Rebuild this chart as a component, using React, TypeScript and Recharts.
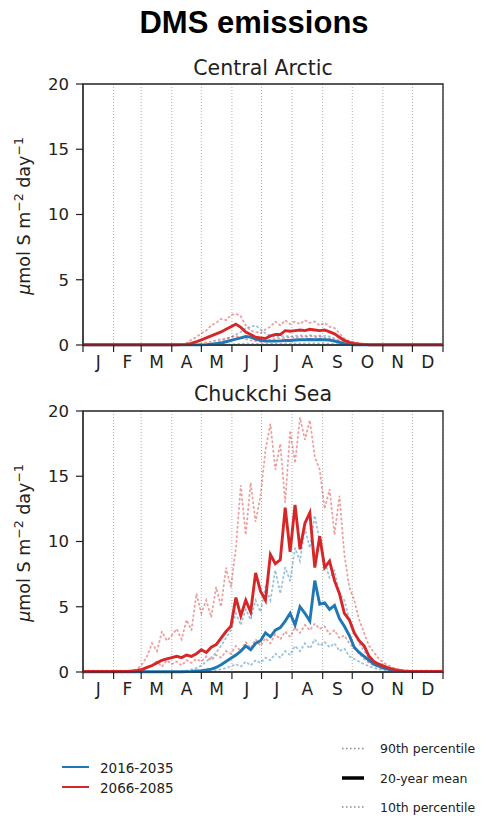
import { LineChart, Line, XAxis, YAxis, CartesianGrid, ReferenceArea } from "recharts";

// day of year, sampled every 5 days
const days = [
  0, 5, 10, 15, 20, 25, 30, 35, 40, 45,
  50, 55, 60, 65, 70, 75, 80, 85, 90, 95,
  100, 105, 110, 115, 120, 125, 130, 135, 140, 145,
  150, 155, 160, 165, 170, 175, 180, 185, 190, 195,
  200, 205, 210, 215, 220, 225, 230, 235, 240, 245,
  250, 255, 260, 265, 270, 275, 280, 285, 290, 295,
  300, 305, 310, 315, 320, 325, 330, 335, 340, 345,
  350, 355, 360, 365,
];

const monthStarts = [0, 31, 59, 90, 120, 151, 181, 212, 243, 273, 304, 334, 365];
const monthMids = [15.5, 45, 74.5, 105, 135.5, 166, 196.5, 227.5, 258, 288.5, 319, 349.5];
const monthLetters = ["J", "F", "M", "A", "M", "J", "J", "A", "S", "O", "N", "D"];
const yTicks = [0, 5, 10, 15, 20];

// Central Arctic, 2016-2035
const ca16Mean = [
  0.01, 0.01, 0.01, 0.01, 0.01, 0.01, 0.01, 0.01, 0.01, 0.01,
  0.01, 0.01, 0.01, 0.01, 0.01, 0.01, 0.01, 0.01, 0.01, 0.01,
  0.01, 0.01, 0.01, 0.01, 0.01, 0.03, 0.06, 0.1, 0.15, 0.25,
  0.35, 0.45, 0.55, 0.65, 0.6, 0.45, 0.35, 0.3, 0.3, 0.3,
  0.32, 0.35, 0.35, 0.38, 0.4, 0.4, 0.42, 0.4, 0.42, 0.4,
  0.38, 0.3, 0.2, 0.1, 0.05, 0.02, 0.01, 0.01, 0.01, 0.01,
  0.01, 0.01, 0.01, 0.01, 0.01, 0.01, 0.01, 0.01, 0.01, 0.01,
  0.01, 0.01, 0.01, 0.01,
];
const ca16P90 = [
  0.01, 0.01, 0.01, 0.01, 0.01, 0.01, 0.01, 0.01, 0.01, 0.01,
  0.01, 0.01, 0.01, 0.01, 0.01, 0.01, 0.01, 0.01, 0.01, 0.01,
  0.01, 0.01, 0.01, 0.01, 0.01, 0.01, 0.1, 0.2, 0.3, 0.45,
  0.6, 0.8, 1.0, 1.3, 1.4, 1.5, 1.2, 0.9, 0.7, 0.6,
  0.65, 0.7, 0.65, 0.7, 0.75, 0.7, 0.75, 0.7, 0.72, 0.7,
  0.65, 0.5, 0.35, 0.2, 0.1, 0.04, 0.01, 0.01, 0.01, 0.01,
  0.01, 0.01, 0.01, 0.01, 0.01, 0.01, 0.01, 0.01, 0.01, 0.01,
  0.01, 0.01, 0.01, 0.01,
];
const ca16P10 = [
  0, 0, 0, 0, 0, 0, 0, 0, 0, 0,
  0, 0, 0, 0, 0, 0, 0, 0, 0, 0,
  0, 0, 0, 0, 0, 0, 0, 0, 0, 0.02,
  0.05, 0.08, 0.1, 0.12, 0.1, 0.08, 0.08, 0.08, 0.1, 0.1,
  0.1, 0.12, 0.1, 0.12, 0.12, 0.12, 0.12, 0.12, 0.12, 0.12,
  0.1, 0.08, 0.05, 0.02, 0, 0, 0, 0, 0, 0,
  0, 0, 0, 0, 0, 0, 0, 0, 0, 0,
  0, 0, 0, 0,
];

// Central Arctic, 2066-2085
const ca66Mean = [
  0.02, 0.02, 0.02, 0.02, 0.02, 0.02, 0.02, 0.02, 0.02, 0.02,
  0.02, 0.02, 0.02, 0.02, 0.02, 0.02, 0.02, 0.02, 0.02, 0.02,
  0.03, 0.05, 0.12, 0.25, 0.4, 0.55, 0.7, 0.85, 1.0, 1.2,
  1.4, 1.6, 1.35, 1.0, 0.8, 0.6, 0.55, 0.5, 0.7, 0.8,
  0.8, 1.1, 1.05, 1.1, 1.15, 1.1, 1.2, 1.15, 1.1, 1.15,
  1.0, 0.85, 0.6, 0.35, 0.2, 0.12, 0.08, 0.05, 0.02, 0.02,
  0.02, 0.02, 0.02, 0.02, 0.02, 0.02, 0.02, 0.02, 0.02, 0.02,
  0.02, 0.02, 0.02, 0.02,
];
const ca66P90 = [
  0.03, 0.03, 0.03, 0.03, 0.03, 0.03, 0.03, 0.03, 0.03, 0.03,
  0.03, 0.03, 0.03, 0.03, 0.03, 0.03, 0.03, 0.03, 0.03, 0.03,
  0.03, 0.15, 0.4, 0.6, 0.9, 1.1, 1.5, 1.7, 2.0, 1.9,
  2.3, 2.4, 2.2, 1.5, 1.1, 1.0, 0.9, 1.2, 1.4, 1.8,
  1.5, 1.9, 1.6, 1.8, 1.6, 1.9, 1.7, 1.8, 1.5, 1.7,
  1.4, 1.3, 0.9, 0.5, 0.3, 0.2, 0.1, 0.06, 0.03, 0.03,
  0.03, 0.03, 0.03, 0.03, 0.03, 0.03, 0.03, 0.03, 0.03, 0.03,
  0.03, 0.03, 0.03, 0.03,
];
const ca66P10 = [
  0.01, 0.01, 0.01, 0.01, 0.01, 0.01, 0.01, 0.01, 0.01, 0.01,
  0.01, 0.01, 0.01, 0.01, 0.01, 0.01, 0.01, 0.01, 0.01, 0.01,
  0.01, 0.01, 0.01, 0.01, 0.1, 0.2, 0.25, 0.35, 0.45, 0.5,
  0.6, 0.7, 0.55, 0.45, 0.35, 0.3, 0.25, 0.3, 0.4, 0.45,
  0.5, 0.55, 0.6, 0.55, 0.65, 0.6, 0.7, 0.6, 0.65, 0.55,
  0.5, 0.4, 0.3, 0.15, 0.08, 0.04, 0.01, 0.01, 0.01, 0.01,
  0.01, 0.01, 0.01, 0.01, 0.01, 0.01, 0.01, 0.01, 0.01, 0.01,
  0.01, 0.01, 0.01, 0.01,
];

// Chuckchi Sea, 2016-2035
const ch16Mean = [
  0.02, 0.02, 0.02, 0.02, 0.02, 0.02, 0.02, 0.02, 0.02, 0.02,
  0.02, 0.02, 0.02, 0.02, 0.02, 0.02, 0.02, 0.02, 0.02, 0.02,
  0.02, 0.03, 0.05, 0.08, 0.1, 0.15, 0.22, 0.35, 0.55, 0.8,
  1.05, 1.3, 1.6, 2.0, 1.7, 2.2, 2.4, 3.0, 2.7, 3.2,
  3.4, 3.9, 4.5, 3.6, 5.0, 4.5, 3.9, 7.0, 5.2, 5.3,
  4.8, 5.1, 4.1, 3.5, 2.8, 1.9, 1.5, 1.2, 0.9, 0.6,
  0.45, 0.3, 0.2, 0.12, 0.08, 0.05, 0.03, 0.03, 0.03, 0.03,
  0.03, 0.03, 0.03, 0.03,
];
const ch16P90 = [
  0.03, 0.03, 0.03, 0.03, 0.03, 0.03, 0.03, 0.03, 0.03, 0.03,
  0.03, 0.03, 0.03, 0.03, 0.03, 0.03, 0.03, 0.03, 0.03, 0.03,
  0.05, 0.1, 0.2, 0.3, 0.5, 0.8, 1.1, 1.5, 2.0, 2.6,
  3.2, 4.5, 3.6, 4.8, 4.0, 5.5, 4.6, 6.5, 5.5, 7.8,
  6.0, 8.0, 7.0, 9.5, 8.5, 11.0, 9.5, 12.0, 10.0, 8.5,
  7.2, 7.8, 6.0, 5.5, 4.0, 3.0, 2.2, 1.6, 1.1, 0.8,
  0.5, 0.35, 0.25, 0.15, 0.1, 0.03, 0.03, 0.03, 0.03, 0.03,
  0.03, 0.03, 0.03, 0.03,
];
const ch16P10 = [
  0.01, 0.01, 0.01, 0.01, 0.01, 0.01, 0.01, 0.01, 0.01, 0.01,
  0.01, 0.01, 0.01, 0.01, 0.01, 0.01, 0.01, 0.01, 0.01, 0.01,
  0.01, 0.01, 0.01, 0.01, 0.01, 0.05, 0.1, 0.15, 0.2, 0.3,
  0.45, 0.6, 0.4, 0.8, 0.5, 0.9, 0.7, 1.1, 0.9, 1.4,
  1.1, 1.6, 1.3, 2.0, 1.6, 2.2, 1.8, 2.5, 2.0, 2.3,
  1.9, 2.2, 1.6, 1.8, 1.2, 1.0, 0.8, 0.6, 0.45, 0.3,
  0.2, 0.15, 0.1, 0.02, 0.02, 0.02, 0.02, 0.02, 0.02, 0.02,
  0.02, 0.02, 0.02, 0.02,
];

// Chuckchi Sea, 2066-2085
const ch66Mean = [
  0.05, 0.05, 0.05, 0.05, 0.05, 0.05, 0.05, 0.05, 0.05, 0.05,
  0.08, 0.12, 0.2, 0.35, 0.5, 0.7, 0.9, 1.0, 1.1, 1.2,
  1.1, 1.3, 1.2, 1.4, 1.7, 1.5, 1.9, 2.1, 2.6, 3.1,
  3.5, 5.7, 4.3, 5.5, 4.6, 7.6, 6.2, 5.5, 9.0, 8.3,
  8.6, 12.6, 9.2, 12.8, 9.4, 11.4, 12.2, 8.0, 10.4, 8.0,
  8.5, 7.0, 6.0, 4.5, 4.0, 3.0, 2.4, 2.0, 1.2, 0.8,
  0.6, 0.45, 0.3, 0.2, 0.12, 0.08, 0.06, 0.05, 0.05, 0.05,
  0.05, 0.05, 0.05, 0.05,
];
const ch66P90 = [
  0.1, 0.1, 0.1, 0.1, 0.1, 0.1, 0.1, 0.1, 0.1, 0.1,
  0.1, 0.2, 0.6, 1.2, 2.2, 1.6, 3.1, 2.4, 2.8, 3.3,
  2.5, 4.0, 3.2, 6.0, 4.5, 5.5, 4.2, 6.5, 5.0, 8.0,
  6.5, 9.5, 14.3, 10.5, 14.5, 11.5, 13.5, 17.0, 19.0, 15.5,
  17.5, 13.0, 18.5, 16.0, 19.5, 17.8, 19.3, 16.5, 15.5, 12.5,
  14.0, 10.5, 13.5, 9.0, 6.5, 5.5, 4.0, 3.0, 2.0, 1.5,
  1.0, 0.7, 0.5, 0.3, 0.2, 0.1, 0.1, 0.1, 0.1, 0.1,
  0.1, 0.1, 0.1, 0.1,
];
const ch66P10 = [
  0.02, 0.02, 0.02, 0.02, 0.02, 0.02, 0.02, 0.02, 0.02, 0.02,
  0.02, 0.02, 0.1, 0.3, 0.5, 0.8, 0.4, 0.9, 0.6, 0.8,
  0.5, 0.9, 0.7, 1.0, 0.8, 1.2, 0.9, 1.3, 1.1, 1.6,
  1.4, 2.0, 1.6, 2.3, 1.8, 2.5, 2.0, 2.6, 2.2, 2.9,
  2.5, 3.1, 2.7, 3.4, 3.0, 3.6, 3.2, 3.7, 3.3, 3.5,
  2.9, 3.2, 2.6, 2.8, 2.2, 1.8, 1.4, 1.0, 0.7, 0.5,
  0.35, 0.25, 0.15, 0.1, 0.03, 0.03, 0.03, 0.03, 0.03, 0.03,
  0.03, 0.03, 0.03, 0.03,
];

const BLUE = "#1f77b4";
const RED = "#d62728";
const INK = "#222";
const FONT = "'DejaVu Sans', Verdana, sans-serif";

const rows = days.map((day, i) => ({
  day,
  ca16Mean: ca16Mean[i], ca16P90: ca16P90[i], ca16P10: ca16P10[i],
  ca66Mean: ca66Mean[i], ca66P90: ca66P90[i], ca66P10: ca66P10[i],
  ch16Mean: ch16Mean[i], ch16P90: ch16P90[i], ch16P10: ch16P10[i],
  ch66Mean: ch66Mean[i], ch66P90: ch66P90[i], ch66P10: ch66P10[i],
}));

function Panel({ top, region }: { top: number; region: "ca" | "ch" }) {
  // percentiles are dotted, semi-transparent; means are thick solid
  const pct = (key: string, color: string) => (
    <Line
      xAxisId="bounds"
      type="linear"
      dataKey={key}
      stroke={color}
      strokeOpacity={0.45}
      strokeWidth={1.8}
      strokeDasharray="1.2 3.5"
      strokeLinecap="round"
      dot={false}
      isAnimationActive={false}
    />
  );
  const mean = (key: string, color: string) => (
    <Line
      xAxisId="bounds"
      type="linear"
      dataKey={key}
      stroke={color}
      strokeWidth={2.9}
      dot={false}
      isAnimationActive={false}
    />
  );
  return (
    <div style={{ position: "absolute", left: 0, top, width: 487, height: 306 }}>
      <LineChart width={487} height={306} data={rows} margin={{ top: 10, right: 44, bottom: 0, left: 33 }}>
        <CartesianGrid xAxisId="bounds" horizontal={false} stroke="#999" strokeDasharray="1 2" strokeWidth={0.8} />
        <XAxis
          xAxisId="bounds"
          type="number"
          dataKey="day"
          domain={[0, 365]}
          ticks={monthStarts}
          interval={0}
          height={7}
          tickSize={7}
          tickFormatter={() => ""}
          axisLine={{ stroke: INK }}
          tickLine={{ stroke: INK, strokeWidth: 1.2 }}
        />
        <XAxis
          xAxisId="labels"
          type="number"
          dataKey="day"
          domain={[0, 365]}
          ticks={monthMids}
          interval={0}
          height={28}
          tickSize={0}
          tickMargin={4}
          axisLine={false}
          tickLine={false}
          tickFormatter={(v: number) => monthLetters[monthMids.indexOf(v)]}
          tick={{ fontSize: 17, fill: INK, fontFamily: FONT }}
        />
        <YAxis
          type="number"
          domain={[0, 20]}
          ticks={yTicks}
          interval={0}
          width={50}
          tickSize={7}
          tickMargin={7}
          axisLine={{ stroke: INK }}
          tickLine={{ stroke: INK, strokeWidth: 1.2 }}
          tick={{ fontSize: 16.5, fill: INK, fontFamily: FONT }}
        />
        {pct(`${region}16P90`, BLUE)}
        {pct(`${region}16P10`, BLUE)}
        {pct(`${region}66P90`, RED)}
        {pct(`${region}66P10`, RED)}
        {mean(`${region}16Mean`, BLUE)}
        {mean(`${region}66Mean`, RED)}
        <ReferenceArea
          xAxisId="bounds"
          x1={0}
          x2={365}
          y1={0}
          y2={20}
          fill="none"
          stroke={INK}
          strokeWidth={1.3}
          ifOverflow="visible"
        />
      </LineChart>
    </div>
  );
}

function YLabel({ cy }: { cy: number }) {
  return (
    <text
      x={30}
      y={cy}
      transform={`rotate(-90 30 ${cy})`}
      textAnchor="middle"
      fontSize={17.5}
      fontFamily={FONT}
      fill={INK}
    >
      <tspan fontStyle="italic">μ</tspan>mol S m
      <tspan fontSize={12.5} dy={-7}>−2</tspan>
      <tspan dy={7}> day</tspan>
      <tspan fontSize={12.5} dy={-7}>−1</tspan>
    </text>
  );
}

export default function App() {
  return (
    <div style={{ position: "absolute", left: 0, top: 0, width: 487, height: 816, background: "#fff", fontFamily: FONT }}>
      <Panel top={74} region="ca" />
      <Panel top={401} region="ch" />
      <svg width={487} height={816} style={{ position: "absolute", left: 0, top: 0, pointerEvents: "none" }}>
        <text x={254} y={33} textAnchor="middle" fontSize={31} fontWeight="bold" fontFamily="'Liberation Sans', Arial, sans-serif" fill="#000">
          DMS emissions
        </text>
        <text x={263} y={75} textAnchor="middle" fontSize={20.5} fontFamily={FONT} fill={INK}>
          Central Arctic
        </text>
        <text x={263} y={401} textAnchor="middle" fontSize={20.5} fontFamily={FONT} fill={INK}>
          Chuckchi Sea
        </text>
        <YLabel cy={216} />
        <YLabel cy={543} />

        <line x1={62} x2={89} y1={767} y2={767} stroke={BLUE} strokeWidth={2} />
        <text x={100} y={772.5} fontSize={13.5} fontFamily={FONT} fill={INK}>2016-2035</text>
        <line x1={62} x2={89} y1={787} y2={787} stroke={RED} strokeWidth={2} />
        <text x={100} y={792.5} fontSize={13.5} fontFamily={FONT} fill={INK}>2066-2085</text>

        <line x1={342} x2={364} y1={748.5} y2={748.5} stroke="#888" strokeWidth={1.3} strokeDasharray="1.5 2.5" />
        <text x={380} y={753} fontSize={12.5} fontFamily={FONT} fill={INK}>90th percentile</text>
        <line x1={342} x2={364} y1={778} y2={778} stroke="#000" strokeWidth={3.5} />
        <text x={380} y={782.5} fontSize={12.5} fontFamily={FONT} fill={INK}>20-year mean</text>
        <line x1={342} x2={364} y1={807} y2={807} stroke="#888" strokeWidth={1.3} strokeDasharray="1.5 2.5" />
        <text x={380} y={811.5} fontSize={12.5} fontFamily={FONT} fill={INK}>10th percentile</text>
      </svg>
    </div>
  );
}
